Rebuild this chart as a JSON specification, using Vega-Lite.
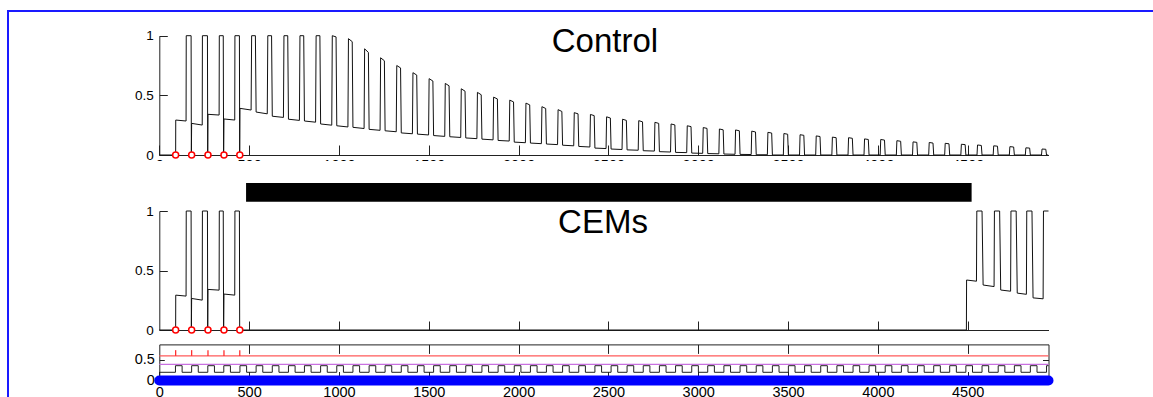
{
"$schema": "https://vega.github.io/schema/vega-lite/v6.json",
"width": 1160, "height": 400,
"autosize": {"type": "none"},
"padding": {"left": 8, "top": 11, "right": -15, "bottom": -14},
"background": "white",
"config": {
  "view": {"stroke": "#1a1aff", "strokeWidth": 2},
  "font": "Liberation Sans",
  "axis": {"grid": false, "domainColor": "#222", "tickColor": "#222", "labelColor": "#000", "labelFont": "Liberation Sans", "labelFlush": false, "labelBound": false, "labelOverlap": false, "domainWidth": 1, "tickWidth": 1}
},
"datasets": {
  "ctrl": [{"t":0,"v":0},{"t":91,"v":0},{"t":91.5,"v":0.293},{"t":149,"v":0.285},{"t":150,"v":1},{"t":177,"v":1},{"t":178.5,"v":0},{"t":180,"v":0.265},{"t":239,"v":0.251},{"t":240,"v":1},{"t":268,"v":1},{"t":269.5,"v":0},{"t":271,"v":0.341},{"t":333,"v":0.335},{"t":334,"v":1},{"t":356,"v":1},{"t":358,"v":0},{"t":360,"v":0.302},{"t":420,"v":0.293},{"t":421,"v":1},{"t":446,"v":1},{"t":447.5,"v":0},
  {"t":449,"v":0.391},
  {"t":511,"v":0.377},{"t":514,"v":1},{"t":535,"v":1},{"t":539,"v":0.36},
  {"t":601,"v":0.345},{"t":604,"v":1},{"t":625,"v":1},{"t":629,"v":0.325},
  {"t":691,"v":0.315},{"t":694,"v":1},{"t":715,"v":1},{"t":719,"v":0.3},
  {"t":780,"v":0.29},{"t":783,"v":1},{"t":804,"v":1},{"t":808,"v":0.285},
  {"t":870,"v":0.275},{"t":873,"v":1},{"t":894,"v":1},{"t":898,"v":0.26},
  {"t":960,"v":0.25},{"t":963,"v":1},{"t":984,"v":0.99},{"t":988,"v":0.245},
  {"t":1050,"v":0.235},{"t":1053,"v":0.975},{"t":1074,"v":0.95},{"t":1078,"v":0.232},
  {"t":1140,"v":0.222},{"t":1143,"v":0.89},{"t":1164,"v":0.86},{"t":1168,"v":0.215},
  {"t":1229,"v":0.207},{"t":1232,"v":0.815},{"t":1253,"v":0.79},{"t":1257,"v":0.203},
  {"t":1319,"v":0.195},{"t":1322,"v":0.75},{"t":1343,"v":0.73},{"t":1347,"v":0.185},
  {"t":1409,"v":0.178},{"t":1412,"v":0.69},{"t":1433,"v":0.67},{"t":1437,"v":0.175},
  {"t":1499,"v":0.168},{"t":1502,"v":0.64},{"t":1523,"v":0.62},{"t":1527,"v":0.163},
  {"t":1589,"v":0.156},{"t":1592,"v":0.6},{"t":1613,"v":0.58},{"t":1617,"v":0.153},
  {"t":1678,"v":0.147},{"t":1681,"v":0.555},{"t":1702,"v":0.535},{"t":1706,"v":0.143},
  {"t":1768,"v":0.137},{"t":1771,"v":0.525},{"t":1792,"v":0.505},{"t":1796,"v":0.133},
  {"t":1858,"v":0.127},{"t":1861,"v":0.485},{"t":1882,"v":0.47},{"t":1886,"v":0.122},
  {"t":1948,"v":0.117},{"t":1951,"v":0.46},{"t":1972,"v":0.445},{"t":1976,"v":0.108},
  {"t":2038,"v":0.103},{"t":2041,"v":0.435},{"t":2062,"v":0.42},{"t":2066,"v":0.1},
  {"t":2127,"v":0.095},{"t":2130,"v":0.405},{"t":2151,"v":0.39},{"t":2155,"v":0.092},
  {"t":2217,"v":0.087},{"t":2220,"v":0.38},{"t":2241,"v":0.365},{"t":2245,"v":0.082},
  {"t":2307,"v":0.077},{"t":2310,"v":0.355},{"t":2331,"v":0.345},{"t":2335,"v":0.072},
  {"t":2397,"v":0.067},{"t":2400,"v":0.34},{"t":2421,"v":0.33},{"t":2425,"v":0.058},
  {"t":2487,"v":0.054},{"t":2490,"v":0.32},{"t":2511,"v":0.31},{"t":2515,"v":0.05},
  {"t":2576,"v":0.046},{"t":2579,"v":0.3},{"t":2600,"v":0.29},{"t":2604,"v":0.043},
  {"t":2666,"v":0.04},{"t":2669,"v":0.288},{"t":2690,"v":0.278},{"t":2694,"v":0.036},
  {"t":2756,"v":0.033},{"t":2759,"v":0.274},{"t":2780,"v":0.265},{"t":2784,"v":0.028},
  {"t":2846,"v":0.025},{"t":2849,"v":0.26},{"t":2870,"v":0.252},{"t":2874,"v":0.022},
  {"t":2936,"v":0.02},{"t":2939,"v":0.245},{"t":2960,"v":0.238},{"t":2964,"v":0.016},
  {"t":3025,"v":0.014},{"t":3028,"v":0.23},{"t":3049,"v":0.223},{"t":3053,"v":0.012},
  {"t":3115,"v":0.01},{"t":3118,"v":0.218},{"t":3139,"v":0.211},{"t":3143,"v":0.008},
  {"t":3205,"v":0.006},{"t":3208,"v":0.21},{"t":3229,"v":0.203},{"t":3233,"v":0.005},
  {"t":3295,"v":0.004},{"t":3298,"v":0.2},{"t":3319,"v":0.193},{"t":3323,"v":0.002},
  {"t":3385,"v":0.002},{"t":3388,"v":0.19},{"t":3409,"v":0.184},{"t":3413,"v":0},
  {"t":3474,"v":0},{"t":3477,"v":0.18},{"t":3498,"v":0.174},{"t":3502,"v":0},
  {"t":3564,"v":0},{"t":3567,"v":0.17},{"t":3588,"v":0.165},{"t":3592,"v":0},
  {"t":3654,"v":0},{"t":3657,"v":0.16},{"t":3678,"v":0.155},{"t":3682,"v":0},
  {"t":3744,"v":0},{"t":3747,"v":0.15},{"t":3768,"v":0.145},{"t":3772,"v":0},
  {"t":3834,"v":0},{"t":3837,"v":0.145},{"t":3858,"v":0.14},{"t":3862,"v":0},
  {"t":3923,"v":0},{"t":3926,"v":0.135},{"t":3947,"v":0.13},{"t":3951,"v":0},
  {"t":4013,"v":0},{"t":4016,"v":0.13},{"t":4037,"v":0.125},{"t":4041,"v":0},
  {"t":4103,"v":0},{"t":4106,"v":0.12},{"t":4127,"v":0.115},{"t":4131,"v":0},
  {"t":4193,"v":0},{"t":4196,"v":0.11},{"t":4217,"v":0.106},{"t":4221,"v":0},
  {"t":4283,"v":0},{"t":4286,"v":0.105},{"t":4307,"v":0.1},{"t":4311,"v":0},
  {"t":4372,"v":0},{"t":4375,"v":0.098},{"t":4396,"v":0.094},{"t":4400,"v":0},
  {"t":4462,"v":0},{"t":4465,"v":0.09},{"t":4486,"v":0.087},{"t":4490,"v":0},
  {"t":4552,"v":0},{"t":4555,"v":0.084},{"t":4576,"v":0.08},{"t":4580,"v":0},
  {"t":4642,"v":0},{"t":4645,"v":0.077},{"t":4666,"v":0.074},{"t":4670,"v":0},
  {"t":4732,"v":0},{"t":4735,"v":0.07},{"t":4756,"v":0.067},{"t":4760,"v":0},
  {"t":4821,"v":0},{"t":4824,"v":0.06},{"t":4845,"v":0.058},{"t":4849,"v":0},
  {"t":4911,"v":0},{"t":4914,"v":0.05},{"t":4935,"v":0.048},{"t":4939,"v":0},{"t":4948,"v":0}],
  "cems": [{"t":0,"v":0},{"t":91,"v":0},{"t":91.5,"v":0.293},{"t":149,"v":0.285},{"t":150,"v":1},{"t":177,"v":1},{"t":178.5,"v":0},{"t":180,"v":0.265},{"t":239,"v":0.251},{"t":240,"v":1},{"t":268,"v":1},{"t":269.5,"v":0},{"t":271,"v":0.341},{"t":333,"v":0.335},{"t":334,"v":1},{"t":356,"v":1},{"t":358,"v":0},{"t":360,"v":0.302},{"t":420,"v":0.293},{"t":421,"v":1},{"t":446,"v":1},{"t":447.5,"v":0},
  {"t":4493,"v":0},{"t":4494,"v":0.42},{"t":4549,"v":0.41},{"t":4551,"v":1},{"t":4580,"v":1},{"t":4586,"v":0.378},{"t":4647,"v":0.365},{"t":4649,"v":1},{"t":4678,"v":1},{"t":4684,"v":0.336},{"t":4739,"v":0.326},{"t":4741,"v":1},{"t":4770,"v":1},{"t":4776,"v":0.31},{"t":4827,"v":0.3},{"t":4829,"v":1},{"t":4858,"v":1},{"t":4864,"v":0.27},{"t":4920,"v":0.262},{"t":4922,"v":1},{"t":4950,"v":1}],
  "sq": [{"t":0,"v":0.2},{"t":90,"v":0.361},{"t":127,"v":0.2},{"t":180,"v":0.361},{"t":217,"v":0.2},{"t":270,"v":0.361},{"t":307,"v":0.2},{"t":359,"v":0.361},{"t":396,"v":0.2},{"t":449,"v":0.361},{"t":486,"v":0.2},{"t":539,"v":0.361},{"t":576,"v":0.2},{"t":629,"v":0.361},{"t":666,"v":0.2},{"t":719,"v":0.361},{"t":756,"v":0.2},{"t":808,"v":0.361},{"t":845,"v":0.2},{"t":898,"v":0.361},{"t":935,"v":0.2},{"t":988,"v":0.361},{"t":1025,"v":0.2},{"t":1078,"v":0.361},{"t":1115,"v":0.2},{"t":1168,"v":0.361},{"t":1205,"v":0.2},{"t":1257,"v":0.361},{"t":1294,"v":0.2},{"t":1347,"v":0.361},{"t":1384,"v":0.2},{"t":1437,"v":0.361},{"t":1474,"v":0.2},{"t":1527,"v":0.361},{"t":1564,"v":0.2},{"t":1617,"v":0.361},{"t":1654,"v":0.2},{"t":1706,"v":0.361},{"t":1743,"v":0.2},{"t":1796,"v":0.361},{"t":1833,"v":0.2},{"t":1886,"v":0.361},{"t":1923,"v":0.2},{"t":1976,"v":0.361},{"t":2013,"v":0.2},{"t":2066,"v":0.361},{"t":2103,"v":0.2},{"t":2155,"v":0.361},{"t":2192,"v":0.2},{"t":2245,"v":0.361},{"t":2282,"v":0.2},{"t":2335,"v":0.361},{"t":2372,"v":0.2},{"t":2425,"v":0.361},{"t":2462,"v":0.2},{"t":2515,"v":0.361},{"t":2552,"v":0.2},{"t":2604,"v":0.361},{"t":2641,"v":0.2},{"t":2694,"v":0.361},{"t":2731,"v":0.2},{"t":2784,"v":0.361},{"t":2821,"v":0.2},{"t":2874,"v":0.361},{"t":2911,"v":0.2},{"t":2964,"v":0.361},{"t":3001,"v":0.2},{"t":3053,"v":0.361},{"t":3090,"v":0.2},{"t":3143,"v":0.361},{"t":3180,"v":0.2},{"t":3233,"v":0.361},{"t":3270,"v":0.2},{"t":3323,"v":0.361},{"t":3360,"v":0.2},{"t":3413,"v":0.361},{"t":3450,"v":0.2},{"t":3502,"v":0.361},{"t":3539,"v":0.2},{"t":3592,"v":0.361},{"t":3629,"v":0.2},{"t":3682,"v":0.361},{"t":3719,"v":0.2},{"t":3772,"v":0.361},{"t":3809,"v":0.2},{"t":3862,"v":0.361},{"t":3899,"v":0.2},{"t":3951,"v":0.361},{"t":3988,"v":0.2},{"t":4041,"v":0.361},{"t":4078,"v":0.2},{"t":4131,"v":0.361},{"t":4168,"v":0.2},{"t":4221,"v":0.361},{"t":4258,"v":0.2},{"t":4311,"v":0.361},{"t":4348,"v":0.2},{"t":4400,"v":0.361},{"t":4437,"v":0.2},{"t":4490,"v":0.361},{"t":4527,"v":0.2},{"t":4580,"v":0.361},{"t":4617,"v":0.2},{"t":4670,"v":0.361},{"t":4707,"v":0.2},{"t":4760,"v":0.361},{"t":4797,"v":0.2},{"t":4849,"v":0.361},{"t":4886,"v":0.2},{"t":4939,"v":0.361},{"t":4950,"v":0.361}],
  "stim": [{"t":91},{"t":180},{"t":271},{"t":360},{"t":448}]
},
"resolve": {"scale": {"y": "independent"}, "axis": {"x": "independent", "y": "independent"}},
"layer": [
  {"resolve": {"axis": {"x": "independent", "y": "independent"}},
   "layer": [
    {"data": {"name": "ctrl"}, "mark": {"type": "line", "color": "#111", "strokeWidth": 1},
     "encoding": {
       "x": {"field": "t", "type": "quantitative", "scale": {"domain": [0, 4950], "range": [151.3, 1040.5], "nice": false, "zero": false},
             "axis": {"orient": "bottom", "offset": -256, "values": [0,500,1000,1500,2000,2500,3000,3500,4000,4500], "format": "d", "tickSize": -10, "labelPadding": 13, "labelFontSize": 14.5, "title": null}},
       "y": {"field": "v", "type": "quantitative", "scale": {"domain": [0, 1], "range": [144, 24.7], "nice": false, "zero": false},
             "axis": {"orient": "left", "offset": -151.3, "values": [0, 0.5, 1], "format": "~g", "tickSize": -8, "labelPadding": 14, "labelFontSize": 13.5, "title": null}}
     }},
    {"data": {"name": "stim"}, "mark": {"type": "circle", "fill": "white", "stroke": "#ff0000", "strokeWidth": 1.5, "size": 36, "opacity": 1},
     "encoding": {"x": {"field": "t", "type": "quantitative", "axis": null}, "y": {"datum": 0, "axis": null}}},
    {"data": {"values": [{"t": 2481, "v": 0.863, "label": "Control"}]}, "mark": {"type": "text", "fontSize": 33, "font": "Liberation Sans", "align": "center", "baseline": "alphabetic", "color": "#000"},
     "encoding": {"x": {"field": "t", "type": "quantitative", "axis": null}, "y": {"field": "v", "type": "quantitative", "axis": null}, "text": {"field": "label"}}}
  ]},
  {"resolve": {"axis": {"x": "independent", "y": "independent"}},
   "layer": [
    {"data": {"name": "cems"}, "mark": {"type": "line", "color": "#111", "strokeWidth": 1},
     "encoding": {
       "x": {"field": "t", "type": "quantitative",
             "axis": {"orient": "bottom", "offset": -81, "values": [500,1000,1500,2000,2500,3000,3500,4000,4500], "tickSize": -9, "labels": false, "title": null}},
       "y": {"field": "v", "type": "quantitative", "scale": {"domain": [0, 1], "range": [319, 200], "nice": false, "zero": false},
             "axis": {"orient": "left", "offset": -151.3, "values": [0, 0.5, 1], "format": "~g", "tickSize": -8, "labelPadding": 14, "labelFontSize": 13.5, "title": null}}
     }},
    {"data": {"values": [{"t": -70, "t2": 4950, "v": 1.244, "v2": 1.42}]}, "mark": {"type": "rect", "color": "#ffffff"},
     "encoding": {"x": {"field": "t", "type": "quantitative", "axis": null}, "x2": {"field": "t2"}, "y": {"field": "v", "type": "quantitative", "axis": null}, "y2": {"field": "v2"}}},
    {"data": {"values": [{"t": 483, "t2": 4522, "v": 1.078, "v2": 1.235}]}, "mark": {"type": "rect", "color": "#000"},
     "encoding": {"x": {"field": "t", "type": "quantitative", "axis": null}, "x2": {"field": "t2"}, "y": {"field": "v", "type": "quantitative", "axis": null}, "y2": {"field": "v2"}}},
    {"data": {"name": "stim"}, "mark": {"type": "circle", "fill": "white", "stroke": "#ff0000", "strokeWidth": 1.5, "size": 36, "opacity": 1},
     "encoding": {"x": {"field": "t", "type": "quantitative", "axis": null}, "y": {"datum": 0, "axis": null}}},
    {"data": {"values": [{"t": 2470, "v": 0.815, "label": "CEMs"}]}, "mark": {"type": "text", "fontSize": 33, "font": "Liberation Sans", "align": "center", "baseline": "alphabetic", "color": "#000"},
     "encoding": {"x": {"field": "t", "type": "quantitative", "axis": null}, "y": {"field": "v", "type": "quantitative", "axis": null}, "text": {"field": "label"}}}
  ]},
  {"resolve": {"axis": {"x": "independent", "y": "independent"}},
   "layer": [
    {"data": {"values": [{}]}, "mark": {"type": "rule", "color": "#ff5a5a", "strokeWidth": 1.3},
     "encoding": {"x": {"datum": 0, "axis": null}, "x2": {"datum": 4950}, "y": {"datum": 0.6, "axis": null}}},
    {"data": {"values": [{}]}, "mark": {"type": "rule", "color": "#c870e0", "strokeWidth": 1.3},
     "encoding": {"x": {"datum": 0, "axis": null}, "x2": {"datum": 4950}, "y": {"datum": 0.395, "axis": null}}},
    {"data": {"name": "sq"}, "mark": {"type": "line", "color": "#222", "strokeWidth": 1, "interpolate": "step-after"},
     "encoding": {
       "x": {"field": "t", "type": "quantitative",
             "axis": {"orient": "bottom", "offset": -30.5, "values": [0,500,1000,1500,2000,2500,3000,3500,4000,4500], "format": "d", "tickSize": -9, "labelPadding": 14, "labelFontSize": 14.5, "title": null}},
       "y": {"field": "v", "type": "quantitative", "scale": {"domain": [0, 0.88], "range": [369.5, 333.4], "nice": false, "zero": false},
             "axis": {"orient": "left", "offset": -151.3, "values": [0, 0.5], "format": "~g", "tickSize": -5, "labelPadding": 10, "labelFontSize": 14.5, "title": null}}
     }},
    {"data": {"name": "stim"}, "mark": {"type": "rule", "color": "#ff3030", "strokeWidth": 1.3},
     "encoding": {
       "x": {"field": "t", "type": "quantitative",
             "axis": {"orient": "top", "offset": -333.4, "values": [500,1000,1500,2000,2500,3000,3500,4000,4500], "tickSize": -9, "labels": false, "title": null}},
       "y": {"datum": 0.6, "axis": {"orient": "right", "offset": -119.5, "values": [0, 0.5], "tickSize": -6, "labels": false, "title": null}},
       "y2": {"datum": 0.74}
     }},
    {"data": {"values": [{}]}, "mark": {"type": "rule", "color": "#0000ff", "strokeWidth": 10, "strokeCap": "round"},
     "encoding": {"x": {"datum": 0, "axis": null}, "x2": {"datum": 4950}, "y": {"datum": 0, "axis": null}}}
  ]}
]
}
